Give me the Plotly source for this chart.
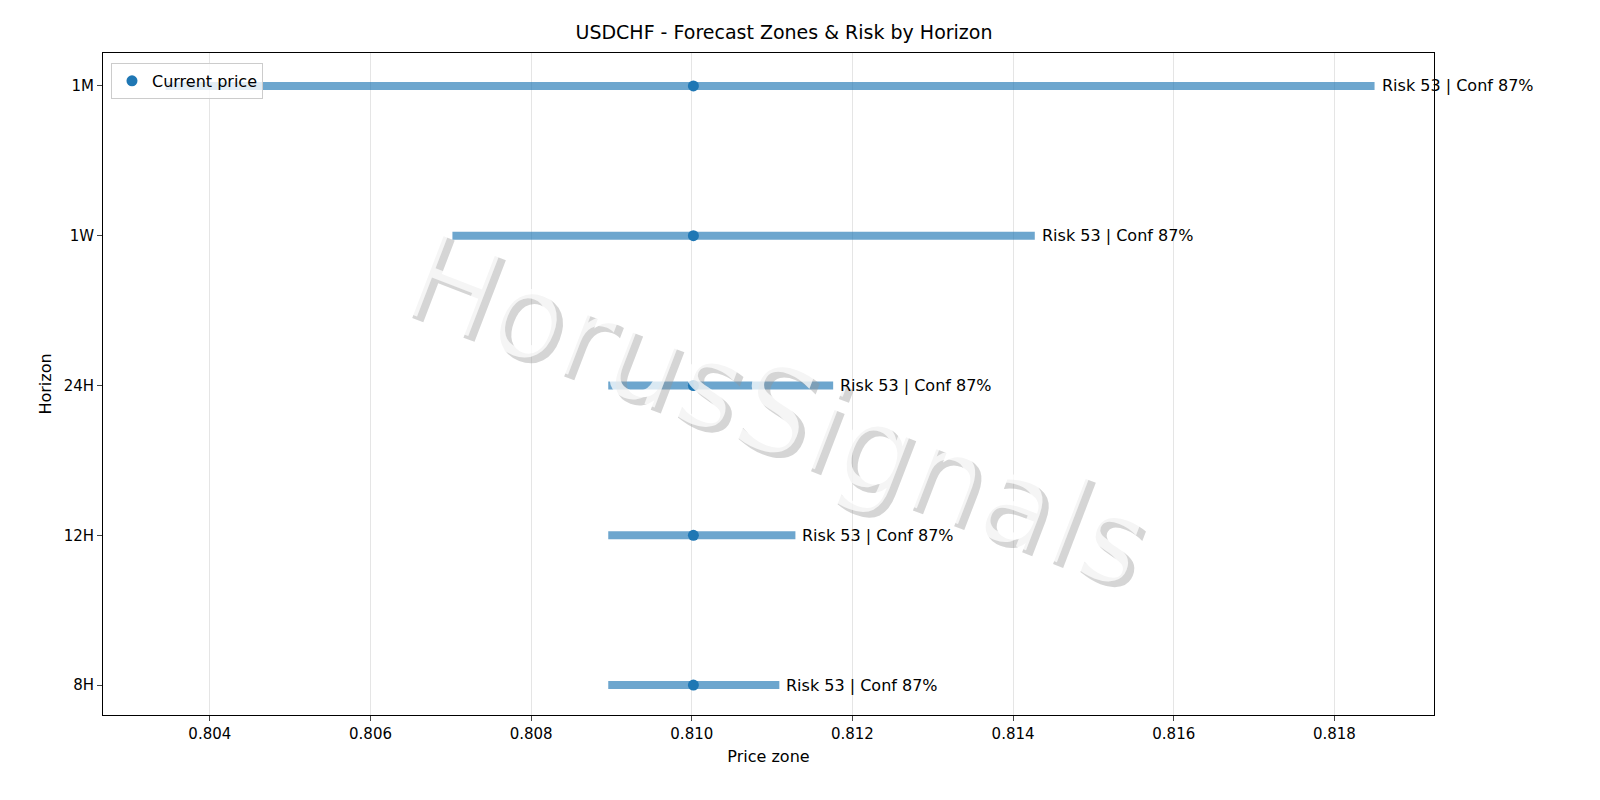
import plotly.graph_objects as go

horizons = ["8H", "12H", "24H", "1W", "1M"]
zone_low = [0.80896, 0.80896, 0.80896, 0.80702, 0.80345]
zone_high = [0.81109, 0.81129, 0.81176, 0.81427, 0.8185]
current = 0.81002
labels = ["Risk 53 | Conf 87%"] * 5

fig = go.Figure()
fig.add_annotation(text="HorusSignals", xref="paper", yref="paper", x=0.51, y=0.452,
                   showarrow=False, textangle=21,
                   font=dict(size=120, color="rgba(150,150,150,0.4)", family="DejaVu Sans"))
fig.add_annotation(text="HorusSignals", xref="paper", yref="paper", x=0.505, y=0.462,
                   showarrow=False, textangle=21,
                   font=dict(size=120, color="rgba(255,255,255,0.75)", family="DejaVu Sans"))
for h, lo, hi in zip(horizons, zone_low, zone_high):
    fig.add_trace(go.Scatter(x=[lo, hi], y=[h, h], mode="lines",
                             line=dict(color="rgba(31,119,180,0.65)", width=8),
                             showlegend=False, hoverinfo="skip"))
fig.add_trace(go.Scatter(x=[current] * len(horizons), y=horizons, mode="markers",
                         marker=dict(color="#1f77b4", size=11), name="Current price"))
for h, hi, lab in zip(horizons, zone_high, labels):
    fig.add_annotation(x=hi, y=h, text=lab, showarrow=False, xanchor="left", xshift=5,
                       font=dict(size=16, color="black"))

fig.update_layout(
    width=1600, height=800, plot_bgcolor="white", paper_bgcolor="white",
    font=dict(family="DejaVu Sans", size=15, color="black"),
    title=dict(text="USDCHF - Forecast Zones & Risk by Horizon", x=0.485, y=0.97, xanchor="center",
               yanchor="middle", font=dict(size=19)),
    margin=dict(l=95, r=174, t=45, b=93, autoexpand=False),
    legend=dict(x=0.006, y=0.985, xanchor="left", yanchor="top", bordercolor="#cccccc",
                borderwidth=1, bgcolor="rgba(255,255,255,0.8)", font=dict(size=16)),
    xaxis=dict(range=[0.80267, 0.81924], tickvals=[0.804, 0.806, 0.808, 0.810, 0.812, 0.814, 0.816, 0.818],
               ticktext=["0.804", "0.806", "0.808", "0.810", "0.812", "0.814", "0.816", "0.818"],
               showgrid=True, gridcolor="#e5e5e5", showline=True, linecolor="black", mirror=True,
               ticks="outside", ticklen=5, zeroline=False, automargin=False,
               title=dict(text="Price zone", font=dict(size=16), standoff=8)),
    yaxis=dict(categoryorder="array", categoryarray=horizons, range=[-0.2, 4.22],
               showgrid=False, showline=True, linecolor="black", mirror=True, automargin=False,
               ticks="outside", ticklen=5, title=dict(text="Horizon", font=dict(size=16), standoff=8)),
)
fig.write_html("out.html")
